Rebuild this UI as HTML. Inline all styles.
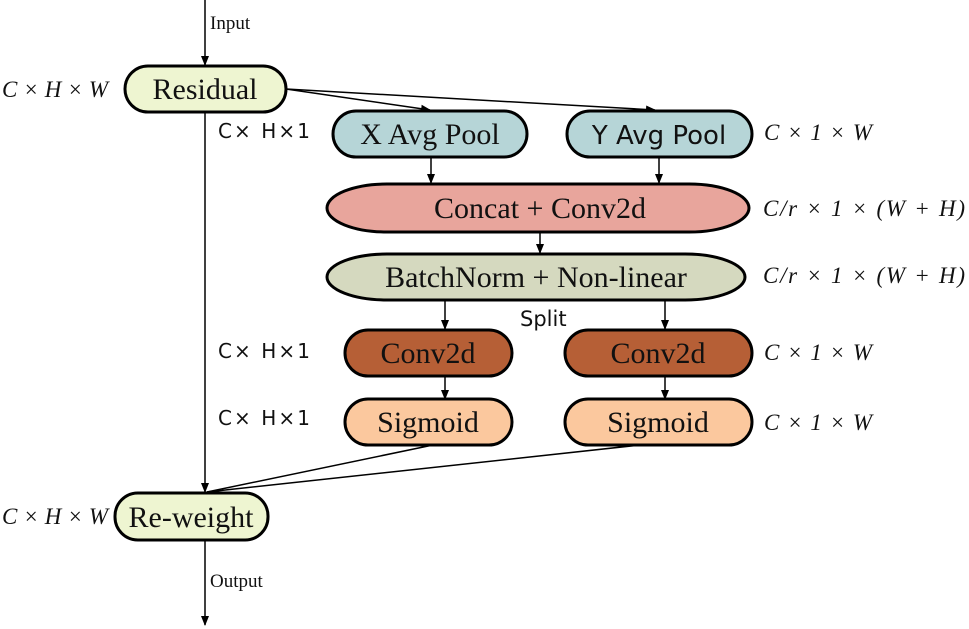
<!DOCTYPE html>
<html><head><style>
body{margin:0;background:#fff;}
svg{display:block;}
.n{font-family:"Liberation Serif",serif;font-size:30px;fill:#111;}
.s{font-family:"DejaVu Sans",sans-serif;font-size:26px;fill:#111;}
.m{font-family:"Liberation Serif",serif;font-style:italic;font-size:23px;fill:#111;}
.k{font-family:"DejaVu Sans",sans-serif;font-size:20px;fill:#111;}
.r{font-family:"Liberation Serif",serif;font-size:19px;fill:#111;}
</style></head><body>
<svg width="969" height="629" viewBox="0 0 969 629">
<defs><marker id="a" markerWidth="10" markerHeight="10" refX="9" refY="5" orient="auto" markerUnits="userSpaceOnUse"><path d="M0,1 L10,5 L0,9 Z" fill="#000"/></marker></defs>
<g stroke="#000" stroke-width="1.5" fill="none">
<line x1="205" y1="0" x2="205" y2="65" marker-end="url(#a)"/>
<line x1="205" y1="112" x2="205" y2="492" marker-end="url(#a)"/>
<line x1="205" y1="540" x2="205" y2="625" marker-end="url(#a)"/>
<line x1="286" y1="89" x2="430" y2="110" marker-end="url(#a)"/>
<line x1="286" y1="89" x2="655" y2="110" marker-end="url(#a)"/>
<line x1="431" y1="157" x2="431" y2="183" marker-end="url(#a)"/>
<line x1="659" y1="157" x2="659" y2="183" marker-end="url(#a)"/>
<line x1="540" y1="232" x2="540" y2="253" marker-end="url(#a)"/>
<line x1="445" y1="300" x2="445" y2="329" marker-end="url(#a)"/>
<line x1="665" y1="300" x2="665" y2="329" marker-end="url(#a)"/>
<line x1="445" y1="376" x2="445" y2="399" marker-end="url(#a)"/>
<line x1="665" y1="376" x2="665" y2="399" marker-end="url(#a)"/>
<line x1="433" y1="445" x2="207" y2="492"/>
<line x1="640" y1="445" x2="207" y2="492"/>
</g>
<g stroke="#000" stroke-width="3">
<rect x="125" y="66" width="161" height="46" rx="23" fill="#eef5d1"/>
<rect x="333" y="111" width="194" height="46" rx="23" fill="#b6d5d7"/>
<rect x="567" y="111" width="185" height="46" rx="23" fill="#b6d5d7"/>
<rect x="327" y="184" width="422" height="48" rx="60" ry="24" fill="#e8a59c"/>
<rect x="327" y="254" width="418" height="46" rx="60" ry="23" fill="#d5d9bf"/>
<rect x="345" y="330" width="167" height="46" rx="23" fill="#b65f36"/>
<rect x="565" y="330" width="187" height="46" rx="23" fill="#b65f36"/>
<rect x="345" y="399" width="167" height="46" rx="23" fill="#fbc89e"/>
<rect x="565" y="399" width="187" height="46" rx="23" fill="#fbc89e"/>
<rect x="115" y="493" width="153" height="47" rx="23" fill="#eef5d1"/>
</g>
<text class="n" x="205" y="99" text-anchor="middle">Residual</text>
<text class="n" x="430" y="144" text-anchor="middle">X Avg Pool</text>
<text class="s" x="659" y="144" text-anchor="middle">Y Avg Pool</text>
<text class="n" x="540" y="218" text-anchor="middle">Concat + Conv2d</text>
<text class="n" x="536" y="287" text-anchor="middle">BatchNorm + Non-linear</text>
<text class="n" x="428" y="363" text-anchor="middle">Conv2d</text>
<text class="n" x="658" y="363" text-anchor="middle">Conv2d</text>
<text class="n" x="428" y="432" text-anchor="middle">Sigmoid</text>
<text class="n" x="658" y="432" text-anchor="middle">Sigmoid</text>
<text class="n" x="191" y="527" text-anchor="middle">Re-weight</text>
<text class="s" x="520" y="326" style="font-size:21px">Split</text>
<text class="r" x="210" y="29">Input</text>
<text class="r" x="210" y="587">Output</text>
<text class="m" x="2" y="97" textLength="106">C × H × W</text>
<text class="m" x="2" y="524" textLength="106">C × H × W</text>
<text class="k" x="218" y="138" textLength="92">C× H×1</text>
<text class="k" x="218" y="358" textLength="92">C× H×1</text>
<text class="k" x="218" y="425" textLength="92">C× H×1</text>
<text class="m" x="764" y="140" textLength="108">C × 1 × W</text>
<text class="m" x="763" y="216" textLength="202">C/r × 1 × (W + H)</text>
<text class="m" x="763" y="283" textLength="202">C/r × 1 × (W + H)</text>
<text class="m" x="764" y="360" textLength="108">C × 1 × W</text>
<text class="m" x="764" y="430" textLength="108">C × 1 × W</text>
</svg>
</body></html>
